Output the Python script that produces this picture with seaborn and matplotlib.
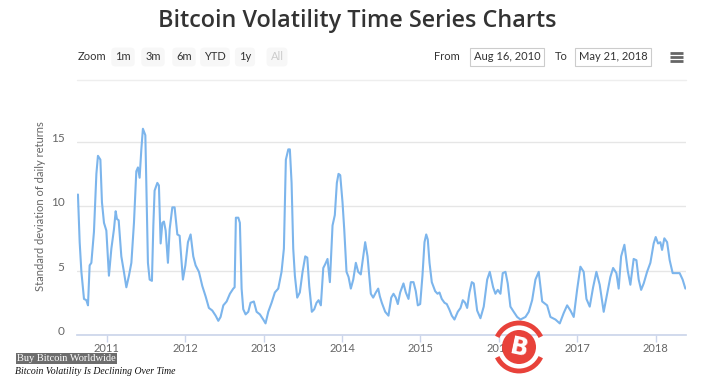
import pandas as pd
import matplotlib.pyplot as plt
import seaborn as sns
from matplotlib.patches import Circle, Arc

sns.set_theme(style="white")
plt.rcParams['font.family'] = ['Lato', 'DejaVu Sans']

# valeurs (année décimale, écart-type des rendements journaliers)
years = [
    2010.634, 2010.656, 2010.678, 2010.711, 2010.741, 2010.762, 2010.783, 2010.805, 2010.838, 2010.869,
    2010.889, 2010.920, 2010.940, 2010.966, 2010.996, 2011.029, 2011.060, 2011.093, 2011.115, 2011.131,
    2011.153, 2011.187, 2011.220, 2011.251, 2011.284, 2011.315, 2011.348, 2011.378, 2011.399, 2011.420,
    2011.442, 2011.462, 2011.493, 2011.510, 2011.526, 2011.548, 2011.577, 2011.595, 2011.611, 2011.646,
    2011.666, 2011.688, 2011.710, 2011.730, 2011.752, 2011.781, 2011.803, 2011.837, 2011.866, 2011.901,
    2011.930, 2011.972, 2012.003, 2012.036, 2012.070, 2012.104, 2012.134, 2012.176, 2012.219, 2012.261,
    2012.303, 2012.346, 2012.389, 2012.423, 2012.452, 2012.487, 2012.529, 2012.571, 2012.614, 2012.631,
    2012.647, 2012.678, 2012.698, 2012.720, 2012.741, 2012.771, 2012.805, 2012.834, 2012.876, 2012.911,
    2012.953, 2012.996, 2013.025, 2013.060, 2013.102, 2013.144, 2013.187, 2013.229, 2013.259, 2013.284,
    2013.315, 2013.335, 2013.357, 2013.378, 2013.399, 2013.429, 2013.462, 2013.497, 2013.531, 2013.557,
    2013.582, 2013.615, 2013.646, 2013.675, 2013.701, 2013.730, 2013.761, 2013.786, 2013.815, 2013.845,
    2013.879, 2013.908, 2013.934, 2013.955, 2013.977, 2014.006, 2014.028, 2014.057, 2014.083, 2014.112,
    2014.143, 2014.176, 2014.206, 2014.239, 2014.270, 2014.295, 2014.325, 2014.346, 2014.367, 2014.397,
    2014.431, 2014.461, 2014.482, 2014.507, 2014.550, 2014.592, 2014.627, 2014.656, 2014.685, 2014.711,
    2014.741, 2014.783, 2014.813, 2014.847, 2014.876, 2014.911, 2014.940, 2014.966, 2014.996, 2015.025,
    2015.051, 2015.073, 2015.093, 2015.115, 2015.144, 2015.187, 2015.217, 2015.242, 2015.271, 2015.306,
    2015.335, 2015.366, 2015.399, 2015.433, 2015.475, 2015.510, 2015.539, 2015.569, 2015.595, 2015.624,
    2015.654, 2015.679, 2015.722, 2015.764, 2015.806, 2015.850, 2015.883, 2015.926, 2015.955, 2015.985,
    2016.019, 2016.048, 2016.083, 2016.112, 2016.146, 2016.188, 2016.232, 2016.274, 2016.338, 2016.380,
    2016.423, 2016.465, 2016.507, 2016.551, 2016.614, 2016.656, 2016.720, 2016.775, 2016.825, 2016.869,
    2016.911, 2016.953, 2016.996, 2017.038, 2017.080, 2017.115, 2017.157, 2017.200, 2017.242, 2017.284,
    2017.335, 2017.379, 2017.420, 2017.455, 2017.497, 2017.526, 2017.557, 2017.599, 2017.641, 2017.675,
    2017.717, 2017.752, 2017.781, 2017.812, 2017.845, 2017.888, 2017.930, 2017.972, 2017.998, 2018.028,
    2018.057, 2018.079, 2018.108, 2018.143, 2018.176, 2018.214, 2018.261, 2018.303, 2018.341, 2018.376,
]
volatility = [
    10.9, 7.2, 4.9, 2.8, 2.7, 2.3, 5.4, 5.6, 8.0, 12.5,
    13.9, 13.6, 10.3, 8.7, 8.1, 4.6, 6.7, 8.2, 9.6, 9.0,
    8.9, 6.1, 4.9, 3.7, 4.6, 5.6, 8.7, 12.7, 13.0, 12.2,
    14.4, 16.0, 15.5, 10.5, 5.6, 4.3, 4.2, 8.5, 11.2, 11.8,
    11.6, 7.1, 8.7, 8.8, 8.1, 5.6, 8.2, 9.9, 9.9, 7.8,
    7.7, 4.3, 5.4, 7.2, 7.8, 6.1, 5.4, 4.9, 3.8, 3.0,
    2.1, 1.9, 1.5, 1.1, 1.4, 2.3, 2.6, 3.2, 3.6, 3.7,
    9.1, 9.1, 8.7, 3.6, 2.0, 1.6, 1.8, 2.5, 2.6, 1.8,
    1.6, 1.2, 0.9, 1.8, 2.5, 3.3, 3.6, 4.9, 6.7, 13.6,
    14.4, 14.4, 11.8, 6.7, 4.6, 2.9, 3.3, 4.9, 6.1, 6.0,
    3.8, 1.8, 2.0, 2.5, 2.7, 2.3, 5.2, 5.5, 5.9, 4.1,
    8.5, 9.3, 11.8, 12.5, 12.4, 10.3, 8.2, 4.9, 4.5, 3.6,
    4.3, 5.6, 4.9, 4.7, 6.1, 7.2, 6.1, 4.6, 3.2, 2.9,
    3.3, 3.6, 3.0, 2.5, 1.8, 1.5, 2.9, 3.2, 2.9, 2.4,
    3.3, 4.0, 3.3, 2.8, 4.1, 4.1, 3.4, 2.3, 2.4, 4.6,
    7.2, 7.8, 7.4, 5.6, 4.1, 3.4, 3.2, 3.3, 2.8, 2.5,
    2.4, 2.0, 1.5, 1.2, 1.8, 2.1, 2.7, 2.5, 2.1, 3.3,
    4.1, 4.0, 1.9, 1.3, 2.2, 4.3, 4.9, 3.7, 3.2, 3.5,
    3.2, 4.8, 4.9, 4.0, 2.2, 1.8, 1.4, 1.2, 1.4, 1.8,
    2.7, 4.3, 4.9, 2.6, 2.3, 1.4, 1.2, 0.9, 1.7, 2.3,
    1.9, 1.4, 3.5, 5.3, 4.9, 2.8, 2.2, 3.7, 4.9, 3.9,
    1.8, 3.2, 4.5, 5.2, 4.8, 3.6, 6.1, 7.0, 5.0, 3.9,
    5.9, 5.8, 4.3, 3.5, 4.0, 4.9, 5.6, 7.1, 7.6, 7.1,
    7.2, 6.6, 7.5, 7.2, 5.8, 4.8, 4.8, 4.8, 4.3, 3.6,
]

year_ticks = [2011, 2012, 2013, 2014, 2015, 2016, 2017, 2018]
y_ticks = [0, 5, 10, 15]
zoom_buttons = ["1m", "3m", "6m", "YTD", "1y", "All"]
date_from = "Aug 16, 2010"
date_to = "May 21, 2018"

df = pd.DataFrame({"year": years, "vol": volatility})

fig = plt.figure(figsize=(7.1, 3.8), dpi=100)
fig.patch.set_facecolor("white")

# graphique principal
ax = fig.add_axes([77 / 710, 45 / 380, 609 / 710, 212.7 / 380])
sns.lineplot(data=df, x="year", y="vol", ax=ax, color="#7cb5ec", linewidth=1.5)
ax.set_xlim(2010.622, 2018.384)
ax.set_ylim(0, 16.5)
ax.set_xticks(year_ticks)
ax.set_xticklabels([str(y) for y in year_ticks])
ax.set_yticks(y_ticks)
ax.grid(axis="y", color="#e6e6e6", linewidth=1)
ax.grid(axis="x", visible=False)
for s in ["top", "right", "left"]:
    ax.spines[s].set_visible(False)
ax.spines["bottom"].set_color("#ccd6eb")
ax.tick_params(axis="x", bottom=True, length=5, width=1, color="#ccd6eb",
               labelcolor="#666666", labelsize=8, pad=1)
ax.tick_params(axis="y", left=False, labelcolor="#666666", labelsize=8.5, pad=3)
for lab in ax.get_yticklabels():
    lab.set_verticalalignment("baseline")
ax.set_xlabel("")
ax.set_ylabel("")

# calque en pixels pour le reste
ov = fig.add_axes([0, 0, 1, 1], zorder=5)
ov.set_xlim(0, 710)
ov.set_ylim(380, 0)
ov.axis("off")

ov.text(357, 21, "Bitcoin Volatility Time Series Charts", ha="center", va="center",
        fontsize=16.8, color="#333333", weight=600, family=["Open Sans", "Roboto", "DejaVu Sans"])

ov.text(41, 206, "Standard deviation of daily returns", rotation=90, ha="center", va="center",
        fontsize=8, color="#666666")

# barre de zoom
ov.text(92, 57, "Zoom", ha="center", va="center", fontsize=8, color="#333333")
btn_x = [123, 153, 184, 215, 245, 277]
for lbl, bx in zip(zoom_buttons, btn_x):
    col = "#cccccc" if lbl == "All" else "#333333"
    ov.text(bx, 57, lbl, ha="center", va="center", fontsize=8, color=col,
            bbox=dict(boxstyle="round,pad=0.35", fc="#f7f7f7", ec="none"))

ov.text(447, 57, "From", ha="center", va="center", fontsize=8, color="#333333")
ov.text(507, 57, date_from, ha="center", va="center", fontsize=8, color="#333333",
        bbox=dict(boxstyle="square,pad=0.35", fc="white", ec="#cccccc", lw=0.8))
ov.text(561, 57, "To", ha="center", va="center", fontsize=8, color="#333333")
ov.text(613, 57, date_to, ha="center", va="center", fontsize=8, color="#333333",
        bbox=dict(boxstyle="square,pad=0.35", fc="white", ec="#cccccc", lw=0.8))
for hy in [53, 57, 61]:
    ov.plot([670, 683], [hy, hy], color="#666666", lw=2, solid_capstyle="butt")
ov.plot([77, 686], [80, 80], color="#eeeeee", lw=1)

# légende en bas à gauche
ov.text(17, 358.5, "Buy Bitcoin Worldwide", ha="left", va="center", fontsize=7.5, color="white",
        family=["Liberation Serif", "DejaVu Serif"],
        bbox=dict(boxstyle="square,pad=0.12", fc="#6d6d6d", ec="none"))
ov.text(15, 371, "Bitcoin Volatility Is Declining Over Time", ha="left", va="center",
        fontsize=7, color="#111111", style="italic", family=["Liberation Serif", "DejaVu Serif"])

# logo bitcoin (filigrane)
ov.add_patch(Circle((519, 347), 17, fc="#e8423a", ec="none"))
ov.add_patch(Arc((519, 347), 48, 48, theta1=25, theta2=155, color="#e8423a", lw=3.5))
ov.add_patch(Arc((519, 347), 48, 48, theta1=205, theta2=335, color="#e8423a", lw=3.5))
ov.text(519, 348, "B", ha="center", va="center", fontsize=17, color="white",
        weight="bold", rotation=-12, family=["DejaVu Sans"])

fig.savefig("out.png", dpi=100, facecolor="white")
